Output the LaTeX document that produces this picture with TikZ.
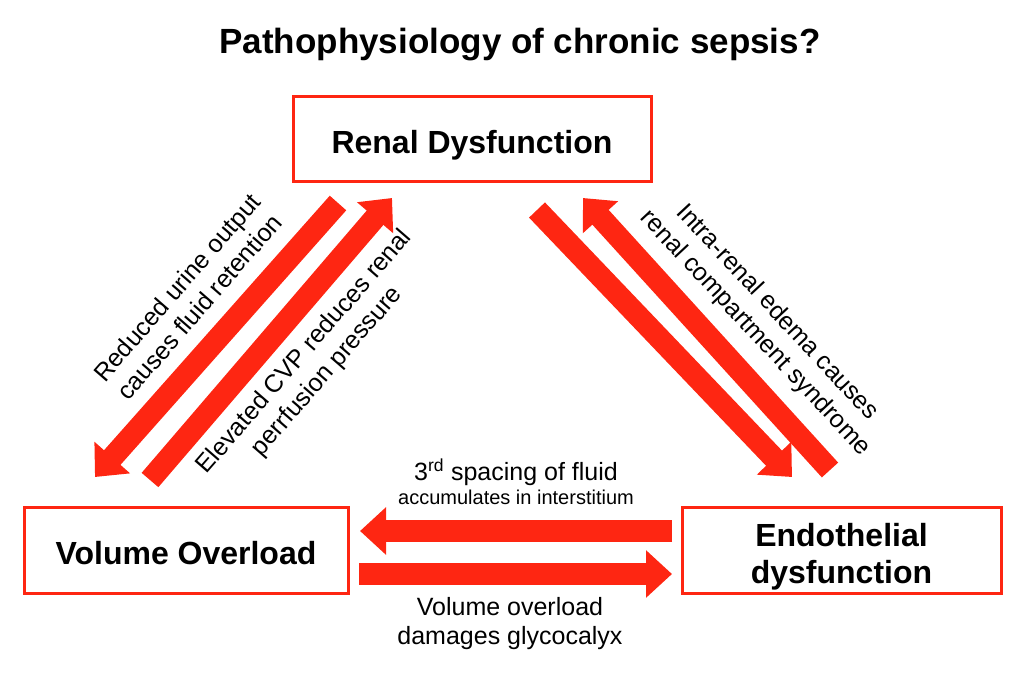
\documentclass[tikz,border=0pt]{standalone}
\usepackage{fontspec}
\setmainfont{Liberation Sans}
\usetikzlibrary{arrows.meta}
\definecolor{sepred}{RGB}{254,38,18}
\begin{document}
\begin{tikzpicture}[x=1pt,y=-1pt,
    box/.style={draw=sepred, line width=3pt, fill=white, align=center,
      text height=29pt, text depth=0pt,
      font=\fontsize{32}{37}\selectfont\bfseries},
    fat/.style={draw=sepred, line width=22pt,
      -{Triangle[width=46pt,length=26pt]}},
    lab/.style={align=center, font=\fontsize{25}{30}\selectfont}]
  \useasboundingbox (0,0) rectangle (1028,673);
  \node[font=\fontsize{35}{40}\selectfont\bfseries] (title) at (520,45)
    {Pathophysiology of chronic sepsis?};
  % boxes
  \node[box, minimum width=358pt, minimum height=85pt] (renal) at (472,138.5)
    {Renal Dysfunction};
  \node[box, minimum width=324pt, minimum height=86pt] (vol) at (186,550)
    {Volume Overload};
  \node[box, minimum width=319pt, minimum height=86pt, text height=66pt]
    (endo) at (841.5,550) {Endothelial\\dysfunction};
  % arrow ends
  \coordinate (rv) at (338,203);   \coordinate (vr) at (95,477);
  \coordinate (vr2) at (150,480);  \coordinate (rv2) at (392,198);
  \coordinate (re) at (537,210);   \coordinate (er) at (792,477);
  \coordinate (er2) at (830,470);  \coordinate (re2) at (583,198);
  \coordinate (ev) at (672,531);   \coordinate (ve) at (360,531);
  \coordinate (ve2) at (359,574);  \coordinate (ev2) at (672,574);
  \draw[fat] (rv) -- (vr);
  \draw[fat] (vr2) -- (rv2);
  \draw[fat] (re) -- (er);
  \draw[fat] (er2) -- (re2);
  \draw[fat] (ev) -- (ve);
  \draw[fat] (ve2) -- (ev2);
  % labels
  \node[lab, rotate=49] (l1) at (188,297)
    {Reduced urine output\\causes fluid retention};
  \node[lab, rotate=49] (l2) at (316,362)
    {Elevated CVP reduces renal\\perrfusion pressure};
  \node[lab, rotate=-47] (l3) at (766,323)
    {Intra-renal edema causes\\renal compartment syndrome};
  \node[font=\fontsize{25}{30}\selectfont] (l4) at (516,472)
    {3\textsuperscript{rd} spacing of fluid};
  \node[font=\fontsize{20}{24}\selectfont] (l4b) at (516,497)
    {accumulates in interstitium};
  \node[lab, font=\fontsize{25}{29}\selectfont] (l5) at (510,624)
    {Volume overload\\damages glycocalyx};
\end{tikzpicture}
\end{document}
